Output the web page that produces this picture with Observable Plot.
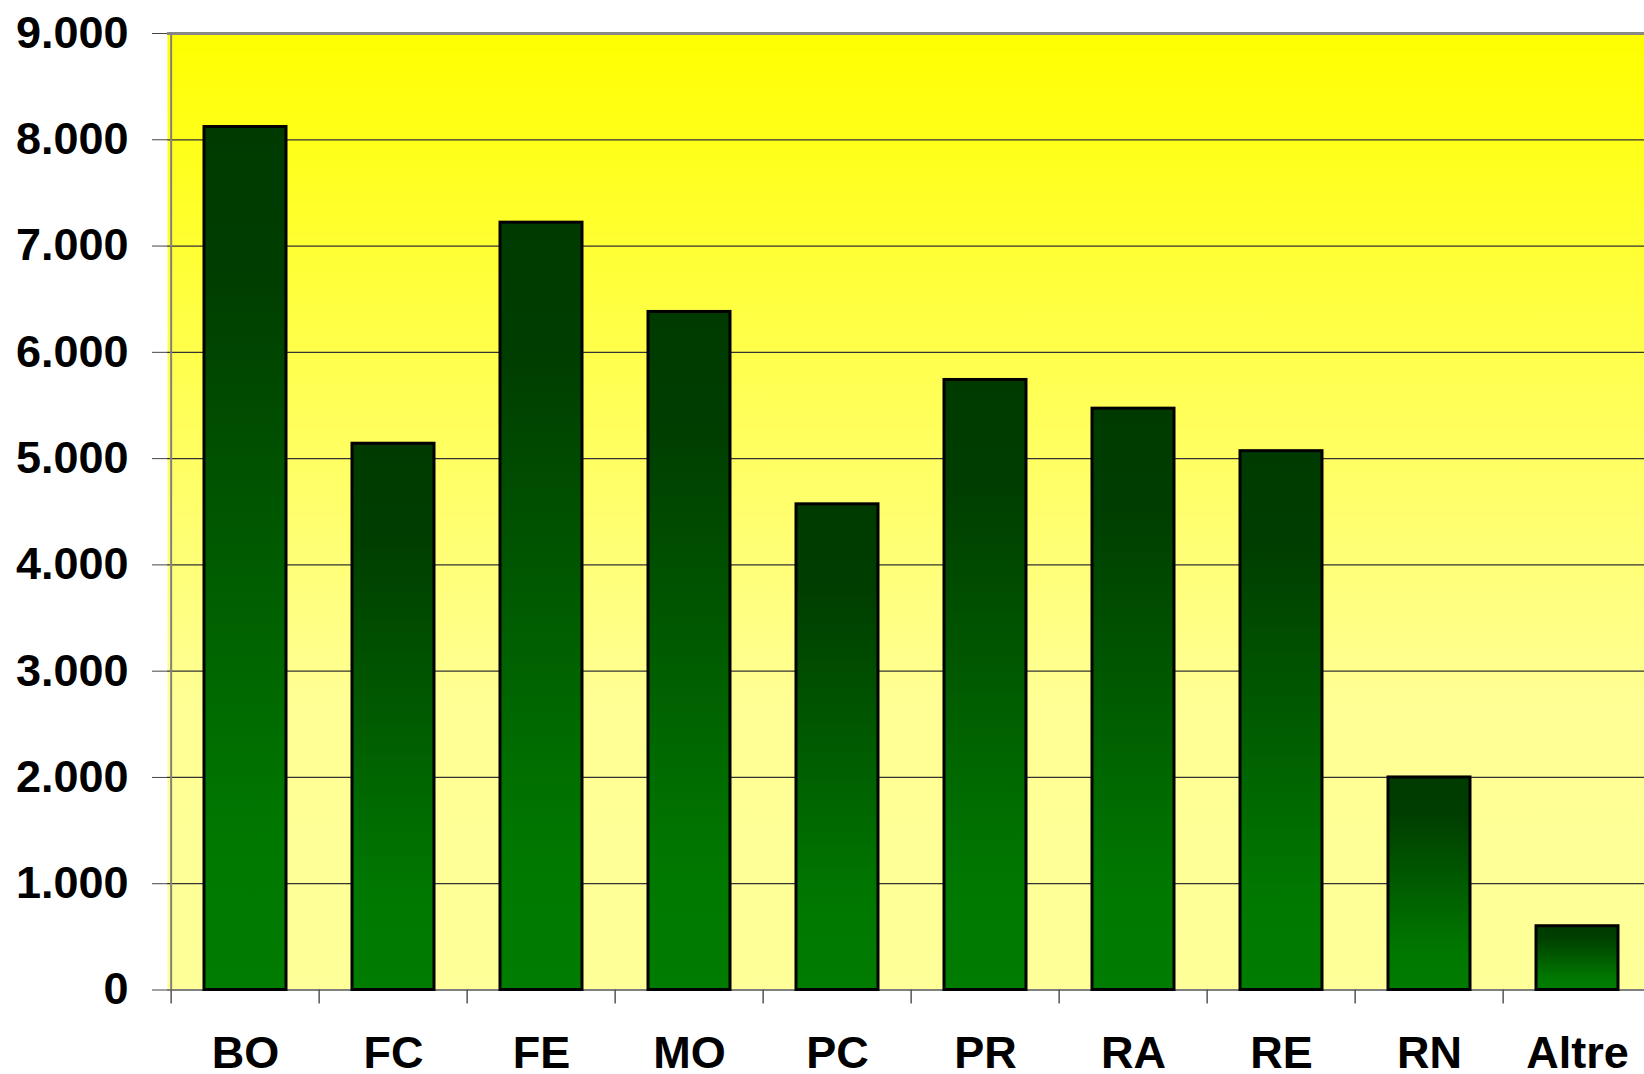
<!DOCTYPE html>
<html>
<head>
<meta charset="utf-8">
<script src="https://cdn.jsdelivr.net/npm/d3@7"></script>
<script src="https://cdn.jsdelivr.net/npm/@observablehq/plot@0.6"></script>
<style>
  html, body { margin: 0; padding: 0; background: white; overflow: hidden; }
</style>
</head>
<body>
<div id="chart"></div>
<script>
const categories = ["BO", "FC", "FE", "MO", "PC", "PR", "RA", "RE", "RN", "Altre"];
const values = [8120, 5140, 7220, 6380, 4570, 5740, 5470, 5070, 2000, 600];
const yTicks = [0, 1000, 2000, 3000, 4000, 5000, 6000, 7000, 8000, 9000];
const gridTicks = [1000, 2000, 3000, 4000, 5000, 6000, 7000, 8000];

const data = categories.map((c, i) => ({cat: c, value: values[i]}));

const W = 1654, H = 1074;
const mL = 167, mR = 0, mT = 33, mB = 84.5;
const step = (W - mL - mR) / categories.length;

const it = d3.formatLocale({decimal: ",", thousands: ".", grouping: [3], currency: ["€", ""]});
const fmt = it.format(",d");

const defs = () => {
  const d = d3.create("svg:defs");
  const bg = d.append("linearGradient").attr("id", "bgGrad")
    .attr("x1", 0).attr("y1", 0).attr("x2", 0).attr("y2", 1);
  bg.append("stop").attr("offset", 0).attr("stop-color", "#FFFF00");
  bg.append("stop").attr("offset", 0.35).attr("stop-color", "#FFFF50");
  bg.append("stop").attr("offset", 0.7).attr("stop-color", "#FFFF95");
  bg.append("stop").attr("offset", 1).attr("stop-color", "#FFFF99");
  const bar = d.append("linearGradient").attr("id", "barGrad")
    .attr("x1", 0).attr("y1", 0).attr("x2", 0).attr("y2", 1);
  bar.append("stop").attr("offset", 0).attr("stop-color", "#003A00");
  bar.append("stop").attr("offset", 0.18).attr("stop-color", "#003E00");
  bar.append("stop").attr("offset", 0.82).attr("stop-color", "#007800");
  bar.append("stop").attr("offset", 1).attr("stop-color", "#007C00");
  return d.node();
};

const chart = Plot.plot({
  width: W,
  height: H,
  marginLeft: mL,
  marginRight: mR,
  marginTop: mT,
  marginBottom: mB,
  style: {fontFamily: "'Liberation Sans', Arial, sans-serif", background: "white", color: "black", maxWidth: "none", overflow: "visible"},
  x: {domain: categories, paddingInner: 0.449, paddingOuter: 0.2245, label: null},
  y: {domain: [0, 9000], label: null},
  marks: [
    defs,
    Plot.frame({fill: "url(#bgGrad)", stroke: "none"}),
    Plot.ruleY(gridTicks, {stroke: "#333333", strokeWidth: 1.3}),
    Plot.ruleY([9000], {stroke: "#888888", strokeWidth: 3}),
    Plot.ruleY([0], {stroke: "#808080", strokeWidth: 2}),
    Plot.ruleX([categories[0]], {x: d => d, dx: -step / 2, y1: 0, y2: 9000, stroke: "#808080", strokeWidth: 2}),
    Plot.ruleX(categories, {x: d => d, dx: -step / 2, y1: 0, y2: 0, insetBottom: -14, stroke: "#555555", strokeWidth: 1.5}),
    Plot.barY(data, {x: "cat", y: "value", fill: "url(#barGrad)", stroke: "black", strokeWidth: 3}),
    Plot.axisY({ticks: yTicks, tickFormat: fmt, tickSize: 15, tickPadding: 24, fontSize: 45, fontWeight: "bold", stroke: "#444444", fill: "black", label: null}),
    Plot.axisX({tickSize: 0, tickPadding: 46, fontSize: 45, fontWeight: "bold", fill: "black", label: null})
  ]
});

document.getElementById("chart").appendChild(chart);
</script>
</body>
</html>
